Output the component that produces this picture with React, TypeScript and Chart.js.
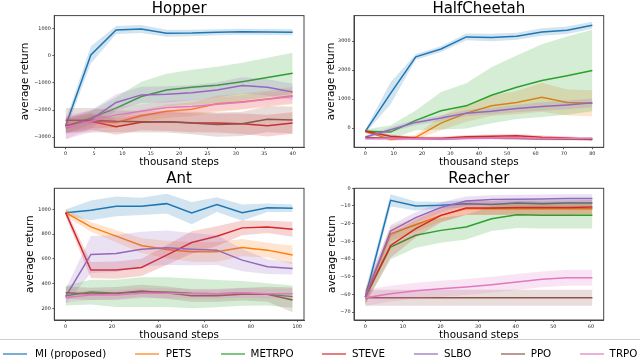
import React, { useEffect, useRef } from 'react';
import { Chart, registerables } from 'chart.js';

Chart.register(...registerables);

const FONT = '"DejaVu Sans", sans-serif';

const algoNames = ['MI (proposed)', 'PETS', 'METRPO', 'STEVE', 'SLBO', 'PPO', 'TRPO'];
const lineColors = ['#1f77b4', '#ff7f0e', '#2ca02c', '#d62728', '#9467bd', '#8c564b', '#e377c2'];
const bandColors = [
  'rgba(31,119,180,0.2)', 'rgba(255,127,14,0.2)', 'rgba(44,160,44,0.2)', 'rgba(214,39,40,0.2)',
  'rgba(148,103,189,0.2)', 'rgba(140,86,75,0.2)', 'rgba(227,119,194,0.2)',
];
const legendLineColors = [
  'rgba(31,119,180,0.6)', 'rgba(255,127,14,0.6)', 'rgba(44,160,44,0.6)', 'rgba(214,39,40,0.6)',
  'rgba(148,103,189,0.6)', 'rgba(140,86,75,0.6)', 'rgba(227,119,194,0.6)',
];

// ---------------- Hopper ----------------
const hopperSteps = [0, 4.44, 8.89, 13.33, 17.78, 22.22, 26.67, 31.11, 35.56, 40];
const hopperMI = [-2580, 40, 960, 1000, 844, 850, 880, 893, 885, 880];
const hopperMIStd = [200, 320, 150, 150, 130, 120, 110, 110, 110, 110];
const hopperPETS = [-2600, -2420, -2460, -2210, -2050, -1970, -1770, -1690, -1590, -1470];
const hopperPETSStd = [250, 250, 200, 220, 250, 250, 300, 300, 300, 320];
const hopperMETRPO = [-2600, -2300, -1930, -1500, -1260, -1160, -1080, -950, -800, -640];
const hopperMETRPOStd = [250, 250, 400, 550, 600, 650, 680, 700, 730, 760];
const hopperSTEVE = [-2580, -2420, -2620, -2450, -2430, -2470, -2480, -2510, -2580, -2480];
const hopperSTEVEStd = [300, 300, 300, 300, 350, 350, 350, 380, 400, 400];
const hopperSLBO = [-2670, -2360, -1720, -1440, -1420, -1360, -1260, -1090, -1160, -1330];
const hopperSLBOStd = [400, 350, 300, 300, 300, 280, 280, 300, 300, 300];
const hopperPPO = [-2380, -2380, -2420, -2430, -2430, -2480, -2540, -2510, -2340, -2370];
const hopperPPOStd = [450, 450, 400, 400, 400, 420, 450, 450, 480, 500];
const hopperTRPO = [-2640, -2420, -2180, -2050, -1910, -1870, -1790, -1710, -1600, -1500];
const hopperTRPOStd = [450, 400, 300, 250, 250, 250, 250, 250, 250, 250];
const hopperXTicks = [0, 5, 10, 15, 20, 25, 30, 35, 40];
const hopperYTicks = [-3000, -2000, -1000, 0, 1000];

// ---------------- HalfCheetah ----------------
const cheetahSteps = [0, 8.89, 17.78, 26.67, 35.56, 44.44, 53.33, 62.22, 71.11, 80];
const cheetahMI = [-115, 1200, 2460, 2730, 3150, 3130, 3170, 3320, 3380, 3550];
const cheetahMIStd = [60, 380, 100, 100, 120, 130, 120, 130, 130, 120];
const cheetahPETS = [-115, -400, -320, 170, 515, 770, 880, 1065, 880, 860];
const cheetahPETSStd = [60, 60, 80, 250, 300, 350, 400, 500, 450, 450];
const cheetahMETRPO = [-115, -140, 263, 596, 767, 1134, 1410, 1640, 1810, 1990];
const cheetahMETRPOStd = [60, 240, 340, 650, 780, 970, 1100, 1260, 1350, 1410];
const cheetahSTEVE = [-115, -286, -344, -355, -298, -286, -263, -320, -344, -400];
const cheetahSTEVEStd = [60, 60, 50, 50, 60, 60, 60, 60, 60, 60];
const cheetahSLBO = [-310, -57, 195, 344, 515, 584, 676, 745, 800, 870];
const cheetahSLBOStd = [60, 80, 100, 100, 110, 120, 130, 150, 150, 150];
const cheetahPPO = [-330, -350, -360, -380, -350, -350, -360, -380, -390, -380];
const cheetahPPOStd = [40, 40, 40, 40, 40, 40, 40, 40, 40, 40];
const cheetahTRPO = [-370, -360, -370, -380, -360, -350, -340, -360, -360, -350];
const cheetahTRPOStd = [40, 40, 40, 40, 40, 40, 40, 40, 40, 40];
const cheetahXTicks = [0, 10, 20, 30, 40, 50, 60, 70, 80];
const cheetahYTicks = [0, 1000, 2000, 3000];

// ---------------- Ant ----------------
const antSteps = [0, 10.9, 21.8, 32.7, 43.6, 54.4, 65.3, 76.2, 87.1, 98];
const antMI = [973, 992, 1024, 1024, 1046, 970, 1038, 973, 1013, 1008];
const antMIStd = [25, 80, 80, 70, 80, 90, 60, 65, 35, 30];
const antPETS = [973, 858, 783, 707, 675, 656, 656, 691, 670, 630];
const antPETSStd = [30, 40, 50, 60, 70, 80, 80, 70, 60, 75];
const antMETRPO = [302, 331, 321, 331, 331, 321, 318, 321, 313, 294];
const antMETRPOStd = [80, 100, 110, 120, 120, 120, 110, 100, 90, 90];
const antSTEVE = [973, 509, 509, 530, 630, 732, 783, 850, 858, 839];
const antSTEVEStd = [30, 65, 70, 70, 80, 90, 80, 60, 50, 60];
const antSLBO = [294, 635, 643, 678, 689, 678, 670, 589, 536, 522];
const antSLBOStd = [60, 150, 150, 140, 140, 130, 120, 90, 60, 50];
const antPPO = [326, 316, 321, 340, 326, 302, 302, 313, 313, 267];
const antPPOStd = [50, 50, 50, 50, 50, 50, 50, 50, 60, 100];
const antTRPO = [286, 307, 307, 321, 321, 318, 318, 326, 318, 318];
const antTRPOStd = [40, 40, 40, 40, 40, 40, 40, 40, 40, 40];
const antXTicks = [0, 20, 40, 60, 80, 100];
const antYTicks = [200, 400, 600, 800, 1000];

// ---------------- Reacher ----------------
const reacherSteps = [0, 6.71, 13.4, 20.1, 26.8, 33.6, 40.3, 47, 53.7, 60.4];
const reacherMI = [-61.5, -6.8, -10, -9.6, -8.7, -9.2, -8.3, -8.7, -8.3, -8.3];
const reacherMIStd = [4, 3.5, 2.5, 2, 2, 2, 2, 2, 2, 2];
const reacherPETS = [-61.5, -25.7, -20.6, -15.3, -11.5, -11.5, -11.5, -11.5, -11.5, -11.5];
const reacherPETSStd = [4, 4, 4, 3.5, 3.5, 3.5, 3.5, 3.5, 3.5, 3.5];
const reacherMETRPO = [-61.5, -33.2, -26.6, -23.8, -21.9, -17.2, -14.9, -15.3, -15.3, -15.3];
const reacherMETRPOStd = [4, 7, 7, 7, 7, 7, 7.5, 7.5, 7.5, 7.5];
const reacherSTEVE = [-61.5, -32.3, -22.8, -15.3, -11.1, -11.1, -10.9, -10.9, -10.9, -10.6];
const reacherSTEVEStd = [4, 7, 5, 4, 4, 4, 4, 4, 4, 4];
const reacherSLBO = [-61.5, -24.2, -16.6, -10.9, -7.2, -6.4, -6.2, -6, -5.8, -5.8];
const reacherSLBOStd = [4, 3.5, 3, 3, 2.5, 2.5, 2.5, 2.5, 2.5, 2.5];
const reacherPPO = [-61.9, -61.9, -61.9, -61.9, -61.9, -61.9, -61.9, -61.9, -61.9, -61.9];
const reacherPPOStd = [4.5, 4.5, 4.5, 4.5, 4.5, 4.5, 4.5, 4.5, 4.5, 4.5];
const reacherTRPO = [-61.9, -59.6, -57.9, -56.8, -55.8, -54.5, -53, -51.5, -50.6, -50.6];
const reacherTRPOStd = [4.5, 4.5, 4.5, 4.5, 4.5, 4.5, 4.5, 4.5, 4.5, 4.5];
const reacherXTicks = [0, 10, 20, 30, 40, 50, 60];
const reacherYTicks = [-70, -60, -50, -40, -30, -20, -10, 0];

type PanelSpec = {
  title: string;
  steps: number[];
  means: number[][];
  stds: number[][];
  xTicks: number[];
  yTicks: number[];
  xRange: [number, number];
  yRange: [number, number];
  layout: {
    left: number; top: number; width: number; height: number;
    padRight: number; yAxisWidth: number; xAxisHeight: number;
    titleTop: number; titleBottom: number; yTitleTop: number; xTitleBottom: number;
  };
};

const panels: PanelSpec[] = [
  {
    title: 'Hopper', steps: hopperSteps,
    means: [hopperMI, hopperPETS, hopperMETRPO, hopperSTEVE, hopperSLBO, hopperPPO, hopperTRPO],
    stds: [hopperMIStd, hopperPETSStd, hopperMETRPOStd, hopperSTEVEStd, hopperSLBOStd, hopperPPOStd, hopperTRPOStd],
    xTicks: hopperXTicks, yTicks: hopperYTicks, xRange: [-2, 42], yRange: [-3380, 1494],
    layout: { left: 0, top: 0, width: 320, height: 170, padRight: 16, yAxisWidth: 54.3, xAxisHeight: 22.7, titleTop: 2, titleBottom: -1.4, yTitleTop: 20.4, xTitleBottom: 2.4 },
  },
  {
    title: 'HalfCheetah', steps: cheetahSteps,
    means: [cheetahMI, cheetahPETS, cheetahMETRPO, cheetahSTEVE, cheetahSLBO, cheetahPPO, cheetahTRPO],
    stds: [cheetahMIStd, cheetahPETSStd, cheetahMETRPOStd, cheetahSTEVEStd, cheetahSLBOStd, cheetahPPOStd, cheetahTRPOStd],
    xTicks: cheetahXTicks, yTicks: cheetahYTicks, xRange: [-4, 84], yRange: [-666, 3886],
    layout: { left: 320, top: 0, width: 320, height: 170, padRight: 36.3, yAxisWidth: 34, xAxisHeight: 22.7, titleTop: 2, titleBottom: -1.4, yTitleTop: 6.4, xTitleBottom: 2.4 },
  },
  {
    title: 'Ant', steps: antSteps,
    means: [antMI, antPETS, antMETRPO, antSTEVE, antSLBO, antPPO, antTRPO],
    stds: [antMIStd, antPETSStd, antMETRPOStd, antSTEVEStd, antSLBOStd, antPPOStd, antTRPOStd],
    xTicks: antXTicks, yTicks: antYTicks, xRange: [-4.9, 102.9], yRange: [105, 1170],
    layout: { left: 0, top: 165, width: 320, height: 176, padRight: 16, yAxisWidth: 54.3, xAxisHeight: 21, titleTop: 7, titleBottom: 1.3, yTitleTop: 25.5, xTitleBottom: 0.4 },
  },
  {
    title: 'Reacher', steps: reacherSteps,
    means: [reacherMI, reacherPETS, reacherMETRPO, reacherSTEVE, reacherSLBO, reacherPPO, reacherTRPO],
    stds: [reacherMIStd, reacherPETSStd, reacherMETRPOStd, reacherSTEVEStd, reacherSLBOStd, reacherPPOStd, reacherTRPOStd],
    xTicks: reacherXTicks, yTicks: reacherYTicks, xRange: [-3.02, 63.4], yRange: [-74.5, 0],
    layout: { left: 320, top: 165, width: 320, height: 176, padRight: 36.3, yAxisWidth: 34, xAxisHeight: 21, titleTop: 7, titleBottom: 1.3, yTitleTop: 7.05, xTitleBottom: 0.4 },
  },
];

const legendLayout = [
  { line: 1.6, text: 34 }, { line: 134, text: 164.8 }, { line: 220, text: 249.5 },
  { line: 321, text: 351 }, { line: 413, text: 443 }, { line: 500, text: 529.7 }, { line: 579, text: 608.6 },
];

const fmt = (v: number) => (v < 0 ? '\u2212' + String(-v) : String(v));

const framePlugin = {
  id: 'frame',
  afterDatasetsDraw(chart: any) {
    const { ctx, chartArea: a } = chart;
    ctx.save();
    ctx.strokeStyle = '#444';
    ctx.lineWidth = 1;
    ctx.strokeRect(a.left, a.top, a.right - a.left, a.bottom - a.top);
    ctx.restore();
  },
};

function buildDatasets(p: PanelSpec) {
  const ds: any[] = [];
  p.means.forEach((m, k) => {
    const s = p.stds[k];
    const base = 100 - 3 * k;
    ds.push({
      label: algoNames[k] + ' upper',
      data: p.steps.map((x, i) => ({ x, y: m[i] + s[i] })),
      borderColor: 'transparent', backgroundColor: bandColors[k], fill: '+1',
      pointRadius: 0, borderWidth: 1, order: base - 1,
    });
    ds.push({
      label: algoNames[k] + ' lower',
      data: p.steps.map((x, i) => ({ x, y: m[i] - s[i] })),
      borderColor: 'transparent', backgroundColor: 'transparent', fill: false,
      pointRadius: 0, borderWidth: 1, order: base - 2,
    });
    ds.push({
      label: algoNames[k],
      data: p.steps.map((x, i) => ({ x, y: m[i] })),
      borderColor: lineColors[k], backgroundColor: lineColors[k], fill: false,
      pointRadius: 0, borderWidth: 1.5, order: base,
    });
  });
  return ds;
}

function Panel({ spec }: { spec: PanelSpec }) {
  const ref = useRef<HTMLCanvasElement | null>(null);
  useEffect(() => {
    if (!ref.current) return;
    const L = spec.layout;
    const tickFont = { family: FONT, size: 4.9 };
    const axisTitleFont = { family: FONT, size: 10.4, lineHeight: 1 };
    const chart = new Chart(ref.current, {
      type: 'line',
      data: { datasets: buildDatasets(spec) },
      options: {
        animation: false,
        responsive: false,
        devicePixelRatio: 1,
        events: [],
        layout: { padding: { left: 0, right: L.padRight, top: 0, bottom: 0 } },
        plugins: {
          legend: { display: false },
          tooltip: { enabled: false },
          title: {
            display: true, text: spec.title, fullSize: false, color: '#000',
            font: { family: FONT, size: 15, lineHeight: 1, weight: 'normal' },
            padding: { top: L.titleTop, bottom: L.titleBottom },
          },
        },
        scales: {
          x: {
            type: 'linear', min: spec.xRange[0], max: spec.xRange[1],
            afterBuildTicks: (s: any) => { s.ticks = spec.xTicks.map((v) => ({ value: v })); },
            afterFit: (s: any) => { s.height = L.xAxisHeight; },
            ticks: { font: tickFont, color: '#222', padding: 1.5, maxRotation: 0, autoSkip: false, callback: (v: any) => fmt(Number(v)) },
            grid: { drawOnChartArea: false, drawTicks: true, tickLength: 2, color: '#444', lineWidth: 0.8 },
            border: { display: true, color: '#444', width: 1 },
            title: { display: true, text: 'thousand steps', color: '#000', font: axisTitleFont, padding: { top: 0, bottom: L.xTitleBottom } },
          },
          y: {
            type: 'linear', min: spec.yRange[0], max: spec.yRange[1],
            afterBuildTicks: (s: any) => { s.ticks = spec.yTicks.map((v) => ({ value: v })); },
            afterFit: (s: any) => { s.width = L.yAxisWidth; },
            ticks: { font: tickFont, color: '#222', padding: 1.5, autoSkip: false, callback: (v: any) => fmt(Number(v)) },
            grid: { drawOnChartArea: false, drawTicks: true, tickLength: 2, color: '#444', lineWidth: 0.8 },
            border: { display: true, color: '#444', width: 1 },
            title: { display: true, text: 'average return', color: '#000', font: axisTitleFont, padding: { top: L.yTitleTop, bottom: 0 } },
          },
        },
      } as any,
      plugins: [framePlugin],
    });
    return () => chart.destroy();
  }, [spec]);
  const L = spec.layout;
  return (
    <canvas
      ref={ref}
      width={L.width}
      height={L.height}
      style={{ position: 'absolute', left: L.left, top: L.top, width: L.width, height: L.height }}
    />
  );
}

function Legend() {
  const boxTop = 338.5;
  return (
    <div
      style={{
        position: 'absolute', left: -6, top: boxTop, width: 652, height: 40,
        background: 'rgba(255,255,255,0.92)', border: '1px solid #d0d0d0', borderRadius: 3,
        boxSizing: 'border-box', zIndex: 2,
      }}
    >
      {algoNames.map((name, k) => (
        <React.Fragment key={name}>
          <div
            style={{
              position: 'absolute', left: legendLayout[k].line + 6, top: 352.5 - boxTop - 1, width: 24, height: 2,
              background: legendLineColors[k],
            }}
          />
          <div
            style={{
              position: 'absolute', left: legendLayout[k].text + 6, top: 348 - boxTop - 1,
              fontFamily: FONT, fontSize: 10.3, lineHeight: '10.3px', color: '#000', whiteSpace: 'nowrap',
            }}
          >
            {name}
          </div>
        </React.Fragment>
      ))}
    </div>
  );
}

export default function App() {
  return (
    <div style={{ position: 'absolute', left: 0, top: 0, width: 640, height: 364, background: '#fff', overflow: 'hidden' }}>
      {panels.map((p) => (
        <Panel key={p.title} spec={p} />
      ))}
      <Legend />
    </div>
  );
}
